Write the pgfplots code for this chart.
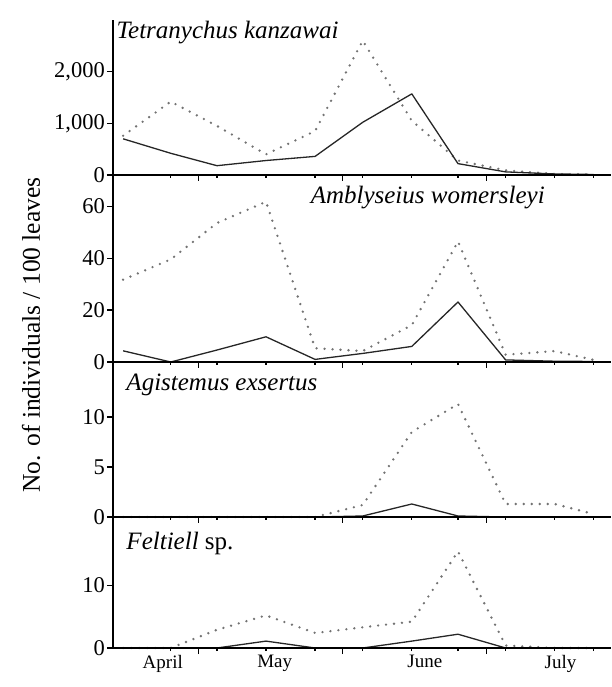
\documentclass[border=0pt]{standalone}
\usepackage{fontspec}
\setmainfont{Liberation Serif}
\usepackage{pgfplots}
\usepackage{pgfplotstable}
\pgfplotsset{compat=1.18}

% sampling dates in months (0 = 1 May, 1 = 1 June, 2 = 1 July)
\pgfplotstableread{
x     solid  dots
-0.52 700    760
-0.19 420    1420
0.13  180    950
0.47  280    400
0.81  360    850
1.14  1020   2600
1.48  1570   1050
1.80  220    280
2.13  60     90
2.47  20     20
2.74  10     10
}\tkanz
\pgfplotstableread{
x     solid  dots
-0.52 4.3    31.7
-0.19 0      39.5
0.13  4.6    53.5
0.47  9.7    61.7
0.81  1      5.3
1.14  3.3    4.2
1.48  6      14.2
1.80  23.1   46.4
2.13  0.8    2.8
2.47  0.3    4.2
2.74  0.2    0.8
}\awom
\pgfplotstableread{
x     solid  dots
-0.52 0      0
-0.19 0      0
0.13  0      0
0.47  0      0
0.81  0      0
1.14  0.1    1.2
1.48  1.3    8.5
1.80  0.1    11.3
2.13  0      1.3
2.47  0      1.3
2.74  0      0.3
}\aexs
\pgfplotstableread{
x     solid  dots
-0.52 0      0
-0.19 0      0
0.13  0      2.9
0.47  1.1    5.2
0.81  0      2.4
1.14  0      3.3
1.48  1.1    4.2
1.80  2.2    15.4
2.13  0      0.4
2.47  0      0
2.74  0      0
}\felt

\pgfplotsset{
  panel/.style={
    scale only axis, width=498pt,
    xmin=-0.59, xmax=2.86,
    axis lines=left, axis line style={-, line width=1.6pt},
    axis on top, clip=false,
    xtick={0,1,2}, xticklabels={,,},
    minor xtick={-0.19,0.13,0.47,0.81,1.14,1.48,1.80,2.13,2.47,2.74},
    tick align=outside, major tick length=6pt, minor tick length=3pt,
    every tick/.style={black, line width=1.2pt},
    /pgf/number format/assume math mode=true,
    yticklabel style={font=\fontsize{22.5}{25}\selectfont, inner sep=2pt},
    anchor=south west,
  },
}
\tikzset{
  solidline/.style={black!85, line width=1.3pt, line join=round},
  dotline/.style={black!55, line width=2.6pt, line cap=round, dash pattern=on 0pt off 8pt},
  ptitle/.style={anchor=west, font=\fontsize{25}{28}\selectfont\itshape},
}

\begin{document}
\begin{tikzpicture}
\useasboundingbox (0,0) rectangle (611pt,687pt);

\begin{axis}[panel, at={(113pt,512pt)}, height=155pt,
  ymin=0, ymax=3000, ytick={0,1000,2000}, yticklabels={0,{1,000},{2,000}},
  scaled y ticks=false]
  \addplot[dotline] table[x=x, y=dots] {\tkanz};
  \addplot[solidline] table[x=x, y=solid] {\tkanz};
  \node[ptitle] at (rel axis cs:0.0,0.92) {Tetranychus kanzawai};
\end{axis}

\begin{axis}[panel, at={(113pt,325pt)}, height=187pt,
  ymin=0, ymax=72, ytick={0,20,40,60}]
  \addplot[dotline] table[x=x, y=dots] {\awom};
  \addplot[solidline] table[x=x, y=solid] {\awom};
  \node[ptitle] at (rel axis cs:0.39,0.88) {Amblyseius womersleyi};
\end{axis}

\begin{axis}[panel, at={(113pt,170pt)}, height=155pt,
  ymin=0, ymax=15.5, ytick={0,5,10}]
  \addplot[dotline] table[x=x, y=dots] {\aexs};
  \addplot[solidline] table[x=x, y=solid] {\aexs};
  \node[ptitle] at (rel axis cs:0.02,0.85) {Agistemus exsertus};
\end{axis}

\begin{axis}[panel, at={(113pt,39pt)}, height=131pt,
  ymin=0, ymax=20.9, ytick={0,10},
  extra x ticks={-0.245,0.53,1.57,2.51},
  extra x tick labels={April,May,June,July},
  extra x tick style={major tick length=0pt,
    xticklabel style={font=\fontsize{19}{22}\selectfont, yshift=-4pt}}]
  \addplot[dotline] table[x=x, y=dots] {\felt};
  \addplot[solidline] table[x=x, y=solid] {\felt};
  \node[ptitle] at (rel axis cs:0.02,0.80) {Feltiell \upshape sp.};
\end{axis}

\node[rotate=90, font=\fontsize{25.5}{28}\selectfont] at (31pt,352pt) {No. of individuals / 100 leaves};
\end{tikzpicture}
\end{document}
